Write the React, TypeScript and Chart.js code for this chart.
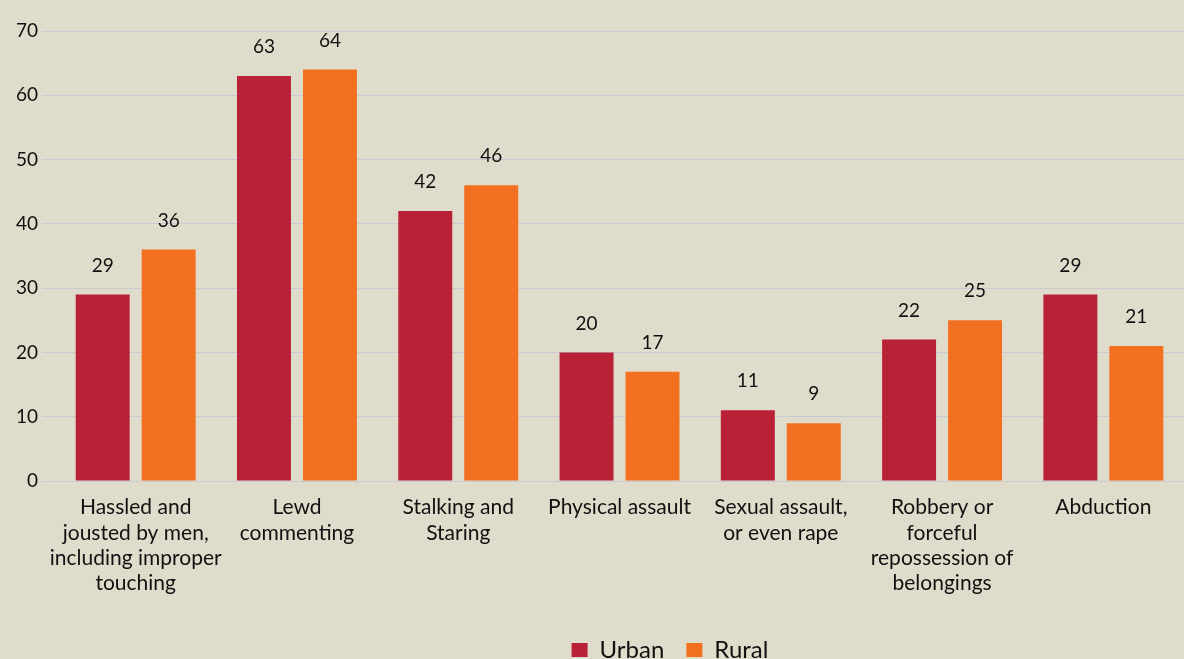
import React, { useEffect, useRef } from "react";
import { Chart, registerables } from "chart.js";

Chart.register(...registerables);

const categories: string[][] = [
  ["Hassled and", "jousted by men,", "including improper", "touching"],
  ["Lewd", "commenting"],
  ["Stalking and", "Staring"],
  ["Physical assault"],
  ["Sexual assault,", "or even rape"],
  ["Robbery or", "forceful", "repossession of", "belongings"],
  ["Abduction"],
];
const urbanValues = [29, 63, 42, 20, 11, 22, 29];
const ruralValues = [36, 64, 46, 17, 9, 25, 21];
const yTicks = [0, 10, 20, 30, 40, 50, 60, 70];

const FONT = "Lato, 'Open Sans', sans-serif";
const BG = "#dfdccb";

const valueLabels = {
  id: "valueLabels",
  afterDatasetsDraw(chart: any) {
    const ctx = chart.ctx;
    ctx.save();
    ctx.font = `19px ${FONT}`;
    ctx.fillStyle = "#111111";
    ctx.textAlign = "center";
    ctx.textBaseline = "middle";
    chart.data.datasets.forEach((ds: any, di: number) => {
      const meta = chart.getDatasetMeta(di);
      meta.data.forEach((bar: any, i: number) => {
        ctx.fillText(String(ds.data[i]), bar.x, bar.y - 29);
      });
    });
    ctx.restore();
  },
};

const shiftLegend = {
  id: "shiftLegend",
  afterLayout(chart: any) {
    const lg = chart.legend;
    if (lg) {
      lg.left += 72;
      lg.right += 72;
    }
  },
};

export default function App() {
  const ref = useRef<HTMLCanvasElement>(null);
  useEffect(() => {
    document.body.style.margin = "0";
    const chart = new Chart(ref.current!, {
      type: "bar",
      data: {
        labels: categories,
        datasets: [
          { label: "Urban", data: urbanValues, backgroundColor: "#b82136" },
          { label: "Rural", data: ruralValues, backgroundColor: "#f37021" },
        ],
      },
      options: {
        responsive: false,
        animation: false,
        layout: { padding: { top: 31, left: 12, right: 0, bottom: 0 } },
        datasets: { bar: { categoryPercentage: 0.818, barPercentage: 0.818 } },
        plugins: {
          legend: {
            position: "bottom",
            labels: {
              font: { family: FONT, size: 24 },
              color: "#111111",
              boxWidth: 16,
              boxHeight: 14,
              padding: 22,
            },
          },
          tooltip: { enabled: false },
          title: { display: false },
        },
        scales: {
          x: {
            grid: { display: false },
            border: { display: false },
            ticks: {
              color: "#111111",
              font: { family: FONT, size: 21, lineHeight: 1.2 },
              padding: 6,
              maxRotation: 0,
              autoSkip: false,
            },
            afterFit(scale: any) {
              scale.height = 135;
            },
          },
          y: {
            min: 0,
            max: 70,
            afterBuildTicks(scale: any) {
              scale.ticks = yTicks.map((v) => ({ value: v }));
            },
            grid: { color: "#cbcad0", lineWidth: 1, tickLength: 13 },
            border: { display: false },
            ticks: {
              color: "#111111",
              font: { family: FONT, size: 19 },
              padding: 4,
            },
          },
        },
      },
      plugins: [valueLabels, shiftLegend],
    });
    return () => chart.destroy();
  }, []);
  return (
    <div
      style={{
        position: "absolute",
        left: 0,
        top: 0,
        width: 1184,
        height: 659,
        overflow: "hidden",
        background: BG,
      }}
    >
      <canvas ref={ref} width={1184} height={672} style={{ display: "block" }} />
    </div>
  );
}
